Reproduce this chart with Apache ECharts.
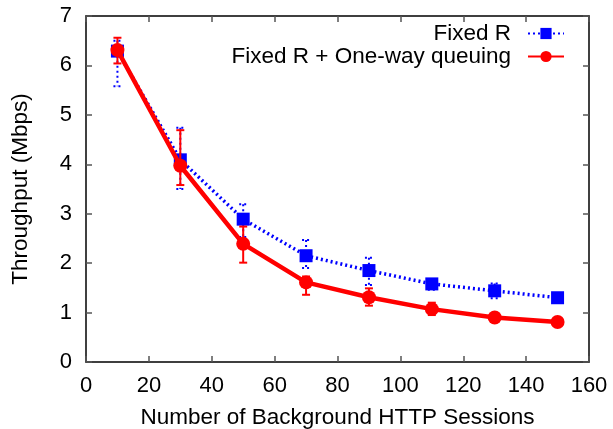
<!DOCTYPE html>
<html>
<head>
<meta charset="utf-8">
<style>
  html, body { margin: 0; padding: 0; background: #fff; }
  #chart { width: 613px; height: 429px; }
</style>
<script src="https://cdn.jsdelivr.net/npm/echarts@6/dist/echarts.min.js"></script>
</head>
<body>
<div id="chart"></div>
<script>
// Number of background HTTP sessions
const sessions = [10, 30, 50, 70, 90, 110, 130, 150];

// Fixed R: mean throughput and error range (Mbps)
const fixedR     = [6.29, 4.09, 2.89, 2.15, 1.85, 1.58, 1.44, 1.30];
const fixedRLow  = [5.58, 3.50, 2.53, 1.90, 1.56, 1.46, 1.29, 1.25];
const fixedRHigh = [6.50, 4.74, 3.19, 2.47, 2.11, 1.67, 1.59, 1.35];

// Fixed R + One-way queuing: mean throughput and error range (Mbps)
const oneWay     = [6.31, 3.97, 2.39, 1.61, 1.31, 1.07, 0.90, 0.81];
const oneWayLow  = [6.04, 3.58, 2.01, 1.36, 1.14, 0.95, 0.84, 0.74];
const oneWayHigh = [6.56, 4.69, 2.74, 1.73, 1.49, 1.20, 0.96, 0.88];

const xTicks = { min: 0, max: 160, interval: 20 };
const yTicks = { min: 0, max: 7, interval: 1 };

const FONT = 'Liberation Sans, Arial, Helvetica, sans-serif';
const BLUE = '#0000ff';
const RED = '#ff0000';

function pairs(xs, ys) { return xs.map((x, i) => [x, ys[i]]); }
function ranges(xs, lo, hi) { return xs.map((x, i) => [x, lo[i], hi[i]]); }

// vertical error bar with small caps at both ends
function errorBars(color, dashed, width) {
  return function (params, api) {
    const x = api.value(0);
    const top = api.coord([x, api.value(2)]);
    const bot = api.coord([x, api.value(1)]);
    const cap = 4;
    const style = { stroke: color, lineWidth: width, lineDash: dashed ? [2, 3] : null };
    return {
      type: 'group',
      children: [
        { type: 'line', shape: { x1: top[0], y1: top[1], x2: bot[0], y2: bot[1] }, style },
        { type: 'line', shape: { x1: top[0] - cap, y1: top[1], x2: top[0] + cap, y2: top[1] }, style },
        { type: 'line', shape: { x1: bot[0] - cap, y1: bot[1], x2: bot[0] + cap, y2: bot[1] }, style }
      ]
    };
  };
}

const axisLine = { show: true, onZero: false, lineStyle: { color: '#000', width: 1.5 } };
const tick = { show: true, inside: true, length: 6, lineStyle: { color: '#555', width: 1.5 } };
const label = { color: '#000', fontFamily: FONT, fontSize: 22 };
const titleStyle = { color: '#000', fontFamily: FONT, fontSize: 22.5 };

const chart = echarts.init(document.getElementById('chart'), null, { renderer: 'canvas' });
chart.setOption({
  animation: false,
  backgroundColor: '#fff',
  grid: {
    left: 86, right: 24, top: 16, bottom: 67,
    containLabel: false, outerBoundsMode: 'none'
  },
  legend: {
    orient: 'vertical',
    right: 43,
    top: 17,
    align: 'right',
    itemWidth: 36,
    itemHeight: 14,
    itemGap: 0,
    textStyle: {
      color: '#000', fontFamily: FONT, fontSize: 22.5,
      padding: [0, 12, 0, 0]
    },
    data: ['Fixed R', 'Fixed R + One-way queuing']
  },
  xAxis: [
    {
      type: 'value', ...xTicks,
      name: 'Number of Background HTTP Sessions',
      nameLocation: 'middle', nameGap: 44,
      nameTextStyle: titleStyle,
      axisLine, axisTick: tick, axisLabel: { ...label, margin: 13 },
      splitLine: { show: false }
    },
    {
      type: 'value', ...xTicks, position: 'top',
      axisLine, axisTick: tick, axisLabel: { show: false }, splitLine: { show: false }
    }
  ],
  yAxis: [
    {
      type: 'value', ...yTicks,
      name: 'Throughput (Mbps)',
      nameLocation: 'middle', nameGap: 54,
      nameTextStyle: titleStyle,
      axisLine, axisTick: tick, axisLabel: { ...label, margin: 14 },
      splitLine: { show: false }
    },
    {
      type: 'value', ...yTicks, position: 'right',
      axisLine, axisTick: tick, axisLabel: { show: false }, splitLine: { show: false }
    }
  ],
  series: [
    {
      name: 'Fixed R range', type: 'custom',
      renderItem: errorBars(BLUE, true, 2),
      data: ranges(sessions, fixedRLow, fixedRHigh),
      z: 2, silent: true
    },
    {
      name: 'Fixed R', type: 'line',
      data: pairs(sessions, fixedR),
      symbol: 'rect', symbolSize: 13,
      lineStyle: { color: BLUE, width: 3.5, type: [2, 3] },
      itemStyle: { color: BLUE },
      z: 3
    },
    {
      name: 'Fixed R + One-way queuing range', type: 'custom',
      renderItem: errorBars(RED, false, 2),
      data: ranges(sessions, oneWayLow, oneWayHigh),
      z: 4, silent: true
    },
    {
      name: 'Fixed R + One-way queuing', type: 'line',
      data: pairs(sessions, oneWay),
      symbol: 'circle', symbolSize: 14,
      lineStyle: { color: RED, width: 4.5 },
      itemStyle: { color: RED },
      z: 5
    }
  ]
});
</script>
</body>
</html>
